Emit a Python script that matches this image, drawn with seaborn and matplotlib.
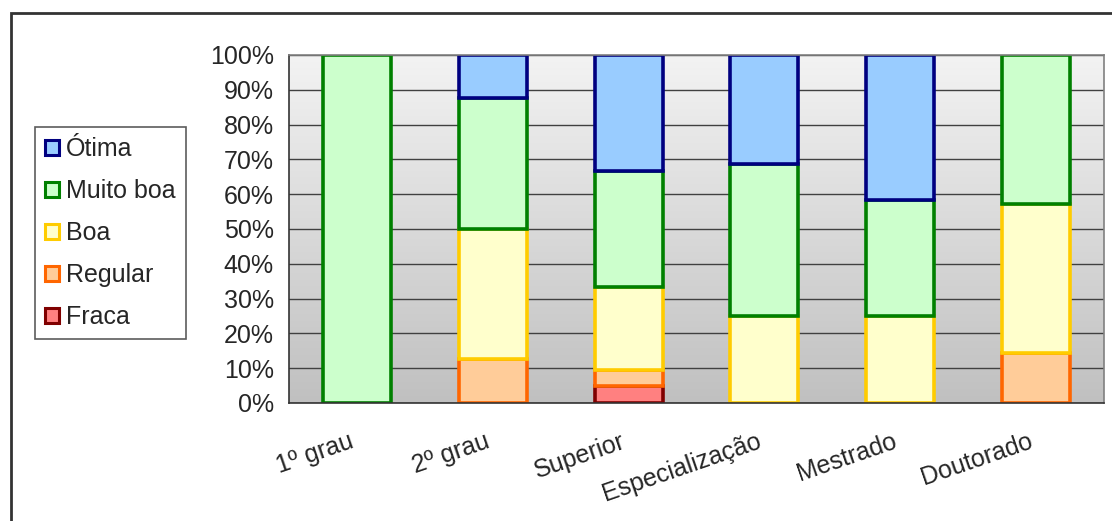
import numpy as np
import pandas as pd
import matplotlib
matplotlib.use("Agg")
import matplotlib.pyplot as plt
import seaborn as sns
from matplotlib.patches import Rectangle, Patch
from matplotlib.ticker import FuncFormatter, FixedLocator
from matplotlib.transforms import ScaledTranslation

# Data (percent of respondents per schooling level)
categorias = ["1º grau", "2º grau", "Superior", "Especialização", "Mestrado", "Doutorado"]
fraca = [0, 0, 4.76, 0, 0, 0]
regular = [0, 12.5, 4.76, 0, 0, 14.29]
boa = [0, 37.5, 23.81, 25.0, 25.0, 42.86]
muito_boa = [100, 37.5, 33.33, 43.75, 33.33, 42.85]
otima = [0, 12.5, 33.34, 31.25, 41.67, 0]

niveis = ["Fraca", "Regular", "Boa", "Muito boa", "Ótima"]
series = [fraca, regular, boa, muito_boa, otima]
faces = ["#FF8080", "#FFCC99", "#FFFFCC", "#CCFFCC", "#99CCFF"]
edges = ["#800000", "#FF6600", "#FFCC00", "#008000", "#000080"]

sns.set_style("white")
plt.rcParams["font.family"] = ["Liberation Sans", "DejaVu Sans"]

fig = plt.figure(figsize=(11.12, 5.21), dpi=100)
ax = fig.add_axes([0.2599, 0.2265, 0.7329, 0.668])

# gradient background of the plot area
grad = np.linspace(0, 1, 256).reshape(-1, 1)
cmap = matplotlib.colors.LinearSegmentedColormap.from_list("bg", ["#C0C0C0", "#F3F3F3"])
ax.imshow(grad, extent=[-0.5, 5.5, 0, 100], origin="lower", aspect="auto",
          cmap=cmap, zorder=-2)

# stacked bars, bottom segment first
cum = np.zeros(len(categorias))
for nome, vals, fc, ec in zip(niveis, series, faces, edges):
    vals = np.array(vals, dtype=float)
    mask = vals > 0
    df = pd.DataFrame({"cat": np.array(categorias)[mask], "val": vals[mask]})
    sns.barplot(data=df, x="cat", y="val", order=categorias, color=fc,
                edgecolor=ec, linewidth=2.6, width=0.5, saturation=1,
                bottom=cum[mask], ax=ax, zorder=2)
    cum += vals

ax.set_xlim(-0.5, 5.5)
ax.set_ylim(0, 100)
ax.set_xlabel("")
ax.set_ylabel("")

ax.yaxis.set_major_locator(FixedLocator(np.arange(0, 101, 10)))
ax.yaxis.set_major_formatter(FuncFormatter(lambda v, p: f"{v:.0f}%"))
ax.yaxis.grid(True, color="#404040", linewidth=1.0, zorder=-1)
ax.set_axisbelow(True)

ax.set_xticks(range(len(categorias)))
ax.set_xticklabels(categorias, rotation=19, ha="right", va="top")
shift = ScaledTranslation(-9 / 100, 0, fig.dpi_scale_trans)
for lab in ax.get_xticklabels():
    lab.set_transform(lab.get_transform() + shift)
ax.xaxis.set_minor_locator(FixedLocator(np.arange(-0.5, 6, 1)))
ax.tick_params(axis="x", which="major", length=0, pad=19, labelsize=18)
ax.tick_params(axis="x", which="minor", length=8, width=1, color="#333333", direction="out")
ax.tick_params(axis="y", which="major", length=7, width=1, color="#333333",
               direction="out", labelsize=18, pad=4)

for s in ["left", "bottom"]:
    ax.spines[s].set_color("#333333")
    ax.spines[s].set_linewidth(1.2)
for s in ["top", "right"]:
    ax.spines[s].set_color("#808080")
    ax.spines[s].set_linewidth(1.2)

# legend, top level first
handles = [Patch(facecolor=fc, edgecolor=ec, linewidth=2.2)
           for fc, ec in zip(faces[::-1], edges[::-1])]
leg = fig.legend(handles, niveis[::-1], loc="upper left",
                 bbox_to_anchor=(35 / 1112, 1 - 127 / 521), fontsize=18,
                 frameon=True, fancybox=False, handlelength=0.55, handleheight=0.55,
                 handletextpad=0.3, labelspacing=0.72, borderpad=0.4,
                 borderaxespad=0)
leg.get_frame().set_edgecolor("#333333")
leg.get_frame().set_linewidth(1.2)

# outer chart border
fig.patches.append(Rectangle((11 / 1112, -0.1), 1.2, 1 - 13 / 521 + 0.1,
                             transform=fig.transFigure, fill=False,
                             edgecolor="#333333", linewidth=2))

fig.savefig("out.png", dpi=100)
